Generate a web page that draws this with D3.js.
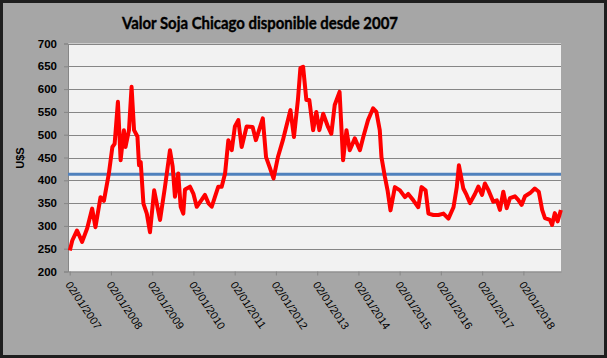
<!DOCTYPE html>
<html>
<head>
<meta charset="utf-8">
<script src="https://cdn.jsdelivr.net/npm/d3@7"></script>
<style>
  html, body { margin: 0; padding: 0; background: #A6A6A6; }
  svg { display: block; }
</style>
</head>
<body>
<svg id="chart" width="607" height="358"></svg>
<script>
// ---------------- DATA ----------------
const chartTitle = "Valor Soja Chicago disponible desde 2007";
const yAxisTitle = "U$S";

const priceDates = [
  "2007-01-03","2007-01-25","2007-03-08","2007-04-22","2007-06-06","2007-07-20","2007-08-18","2007-10-02","2007-11-01","2007-12-15",
  "2008-01-15","2008-02-04","2008-03-04","2008-03-28","2008-04-26","2008-05-10","2008-06-10","2008-07-03","2008-07-25","2008-08-24",
  "2008-09-07","2008-09-22","2008-10-16","2008-11-15","2008-12-13","2009-01-19","2009-03-12","2009-04-25","2009-06-08","2009-07-02",
  "2009-07-22","2009-08-20","2009-09-11","2009-10-04","2009-10-19","2009-12-02","2010-01-01","2010-01-31","2010-03-15","2010-04-14",
  "2010-05-14","2010-06-13","2010-07-12","2010-08-10","2010-09-09","2010-10-09","2010-11-07","2010-12-07","2011-01-04","2011-02-03",
  "2011-03-05","2011-04-18","2011-06-10","2011-07-09","2011-09-08","2011-10-07","2011-11-06","2011-12-12","2012-01-20","2012-03-04",
  "2012-05-10","2012-06-10","2012-07-15","2012-08-06","2012-08-30","2012-09-28","2012-10-24","2012-11-27","2012-12-25","2013-01-21",
  "2013-02-24","2013-04-08","2013-05-07","2013-06-06","2013-07-19","2013-08-19","2013-09-18","2013-10-17","2013-12-01","2014-01-15",
  "2014-02-14","2014-03-28","2014-05-12","2014-06-10","2014-07-10","2014-07-25","2014-08-24","2014-09-17","2014-10-13","2014-11-21",
  "2015-01-05","2015-02-18","2015-03-19","2015-05-03","2015-06-16","2015-07-15","2015-08-20","2015-09-14","2015-10-28","2015-12-12",
  "2016-01-25","2016-03-09","2016-04-23","2016-05-22","2016-06-10","2016-07-19","2016-08-17","2016-09-16","2016-10-30","2016-11-29",
  "2017-01-01","2017-01-26","2017-02-25","2017-04-10","2017-05-12","2017-06-08","2017-07-08","2017-08-07","2017-09-05","2017-10-19",
  "2017-11-17","2017-12-17","2018-01-16","2018-03-02","2018-04-13","2018-05-18","2018-06-17","2018-07-12","2018-08-25","2018-09-13",
  "2018-10-07","2018-11-01","2018-11-30"
];
const priceValues = [
  246,268,290,265,295,338,297,363,355,415,
  473,480,572,444,510,473,510,605,510,496,
  433,440,349,327,286,378,313,386,466,430,
  364,415,342,327,380,386,371,342,357,368,
  350,342,364,386,386,415,488,466,518,532,
  473,518,517,488,536,451,430,404,451,488,
  554,495,576,646,649,576,576,510,550,510,
  546,517,502,565,594,444,510,466,492,466,
  495,532,558,550,510,451,408,378,334,385,
  378,363,370,356,341,385,378,327,324,324,
  327,316,341,385,433,382,368,350,370,386,
  368,393,379,353,356,335,375,339,361,365,
  357,346,365,372,382,375,335,317,313,302,
  328,310,335
];
const averageValue = [413];

const yTicks = [200,250,300,350,400,450,500,550,600,650,700];
const xTickDates = ["2007-01-02","2008-01-02","2009-01-02","2010-01-02","2011-01-02","2012-01-02",
                    "2013-01-02","2014-01-02","2015-01-02","2016-01-02","2017-01-02","2018-01-02"];
const xTickLabels = ["02/01/2007","02/01/2008","02/01/2009","02/01/2010","02/01/2011","02/01/2012",
                     "02/01/2013","02/01/2014","02/01/2015","02/01/2016","02/01/2017","02/01/2018"];
const xDomain = ["2006-12-18","2018-12-01"];

// ---------------- DRAW ----------------
const parse = d3.utcParse("%Y-%m-%d");
const W = 607, H = 358;
const plot = { left: 68, right: 561, top: 43.5, bottom: 271.5 };

const svg = d3.select("#chart");

svg.append("rect").attr("x", 0).attr("y", 0).attr("width", W).attr("height", H).attr("fill", "#A6A6A6");
svg.append("rect").attr("x", 1.5).attr("y", 1.5).attr("width", W - 3).attr("height", H - 3)
  .attr("fill", "none").attr("stroke", "#1e1e1e").attr("stroke-width", 3);

const x = d3.scaleUtc().domain(xDomain.map(parse)).range([plot.left, plot.right]);
const y = d3.scaleLinear().domain([200, 700]).range([plot.bottom, plot.top]);

svg.append("rect").attr("x", plot.left).attr("y", plot.top)
  .attr("width", plot.right - plot.left).attr("height", plot.bottom - plot.top)
  .attr("fill", "#F2F2F2");

// gridlines
svg.append("g").selectAll("line").data(yTicks.filter(d => d > 200)).join("line")
  .attr("x1", plot.left).attr("x2", plot.right)
  .attr("y1", d => Math.round(y(d)) + 0.5).attr("y2", d => Math.round(y(d)) + 0.5)
  .attr("stroke", "#868686").attr("stroke-width", 1);

// y axis
const yAxis = d3.axisLeft(y).tickValues(yTicks).tickSize(4).tickPadding(7);
const gy = svg.append("g").attr("transform", `translate(${plot.left},0)`).call(yAxis);
gy.select(".domain").attr("stroke", "#868686");
gy.selectAll(".tick line").attr("stroke", "#868686");
gy.selectAll(".tick text")
  .attr("font-family", "'Liberation Sans', Arial, sans-serif")
  .attr("font-weight", "bold").attr("font-size", "11.5px").attr("fill", "#000");

// x axis
const xAxis = d3.axisBottom(x).tickValues(xTickDates.map(parse))
  .tickFormat((d, i) => xTickLabels[i]).tickSize(4).tickSizeOuter(0);
const gx = svg.append("g").attr("transform", `translate(0,${plot.bottom})`).call(xAxis);
gx.select(".domain").attr("stroke", "#868686");
gx.selectAll(".tick line").attr("stroke", "#868686");
gx.selectAll(".tick text")
  .attr("font-family", "'Liberation Sans', Arial, sans-serif")
  .attr("font-size", "11px").attr("fill", "#000")
  .attr("text-anchor", "start")
  .attr("transform", "translate(-2,11) rotate(56)")
  .attr("x", 0).attr("y", 0).attr("dy", "0.35em");

// average line
svg.append("g").selectAll("line").data(averageValue).join("line")
  .attr("x1", plot.left).attr("x2", plot.right)
  .attr("y1", d => y(d)).attr("y2", d => y(d))
  .attr("stroke", "#4F81BD").attr("stroke-width", 3);

// price line
const data = priceDates.map((d, i) => ({ date: parse(d), value: priceValues[i] }));
svg.append("path").datum(data)
  .attr("fill", "none").attr("stroke", "#FF0000").attr("stroke-width", 4)
  .attr("stroke-linejoin", "round")
  .attr("d", d3.line().x(d => x(d.date)).y(d => y(d.value)));

// title
svg.append("text").attr("x", 260).attr("y", 29).attr("text-anchor", "middle")
  .attr("font-family", "Lato, 'Liberation Sans', sans-serif").attr("font-weight", "bold")
  .attr("font-size", "17px").attr("fill", "#000")
  .attr("stroke", "#000").attr("stroke-width", 0.4)
  .attr("textLength", 276).attr("lengthAdjust", "spacingAndGlyphs")
  .text(chartTitle);

// y axis title
svg.append("text").attr("transform", "translate(24,158) rotate(-90)")
  .attr("text-anchor", "middle")
  .attr("font-family", "'Liberation Sans', Arial, sans-serif").attr("font-weight", "bold")
  .attr("font-size", "11px").attr("fill", "#000")
  .text(yAxisTitle);
</script>
</body>
</html>
